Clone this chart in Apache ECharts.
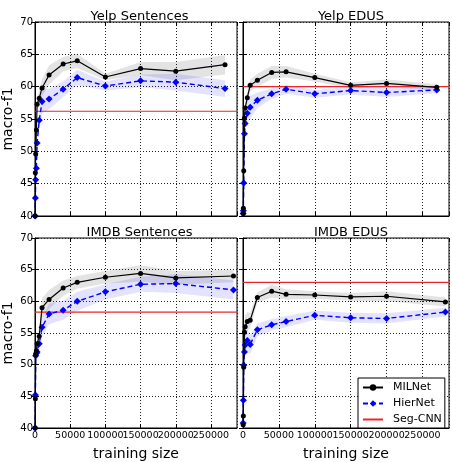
<!DOCTYPE html>
<html><head><meta charset="utf-8">
<script src="https://cdn.jsdelivr.net/npm/echarts@6/dist/echarts.min.js"></script>
<style>html,body{margin:0;padding:0;background:#fff}#c{width:452px;height:462px}</style>
</head><body><div id="c"></div>
<script>
// ---- data ----
const titles = ['Yelp Sentences', 'Yelp EDUS', 'IMDB Sentences', 'IMDB EDUS'];
const yelpX = [200, 500, 1000, 2000, 3000, 6000, 10000, 20000, 40000, 60000, 100000, 150000, 200000, 270000];
const imdbX = [200, 500, 1000, 2000, 3000, 6000, 10000, 20000, 40000, 60000, 100000, 150000, 200000, 282000];

const yelpSentMIL = [40.0, 46.7, 49.6, 53.3, 57.3, 58.2, 59.8, 61.8, 63.5, 64.0, 61.5, 62.8, 62.4, 63.4];
const yelpSentMILSpread = [0.3, 0.4, 0.5, 0.8, 1.0, 1.2, 1.3, 1.5, 1.1, 1.1, 0.5, 1.0, 1.4, 1.5];
const yelpSentHier = [40.0, 42.8, 45.6, 47.4, 51.3, 54.8, 57.7, 58.1, 59.6, 61.4, 60.1, 60.9, 60.7, 59.7];
const yelpSentHierSpread = [0.3, 0.4, 0.6, 0.8, 1.0, 1.4, 1.8, 1.6, 1.2, 1.2, 0.7, 1.0, 1.3, 1.3];
const yelpSentSeg = 56.2;

const yelpEduMIL = [40.4, 41.2, 47.0, 55.1, 56.7, 58.3, 60.2, 61.0, 62.2, 62.3, 61.4, 60.2, 60.5, 59.9];
const yelpEduMILSpread = [0.3, 0.5, 0.6, 0.8, 0.8, 0.9, 0.9, 1.0, 1.0, 0.9, 0.6, 0.5, 0.6, 0.5];
const yelpEduHier = [40.4, 40.8, 45.1, 52.7, 54.3, 55.9, 56.8, 57.9, 58.9, 59.6, 58.9, 59.4, 59.1, 59.5];
const yelpEduHierSpread = [0.3, 0.5, 0.8, 1.2, 1.5, 1.8, 1.8, 1.2, 0.8, 0.7, 0.6, 0.6, 0.7, 0.5];
const yelpEduSeg = 60.0;

const imdbSentMIL = [40.0, 44.6, 51.6, 52.2, 53.3, 54.5, 59.0, 60.3, 62.1, 63.0, 63.8, 64.4, 63.7, 64.0];
const imdbSentMILSpread = [0.3, 0.5, 0.6, 0.8, 1.0, 1.3, 1.5, 1.5, 1.2, 1.0, 1.0, 1.3, 1.1, 1.0];
const imdbSentHier = [40.0, 45.2, 51.4, 51.8, 52.0, 53.3, 55.9, 58.0, 58.6, 60.0, 61.5, 62.7, 62.8, 61.8];
const imdbSentHierSpread = [0.3, 0.5, 0.7, 0.9, 1.1, 1.3, 1.5, 1.6, 1.5, 1.5, 1.2, 1.2, 1.5, 1.5];
const imdbSentSeg = 58.3;

const imdbEduMIL = [40.5, 41.9, 49.6, 55.1, 56.0, 56.8, 57.0, 60.6, 61.6, 61.1, 61.0, 60.7, 60.8, 59.9];
const imdbEduMILSpread = [0.5, 0.8, 1.0, 1.5, 1.8, 1.5, 1.2, 0.8, 1.0, 0.8, 0.6, 0.6, 0.8, 0.7];
const imdbEduHier = [40.8, 44.4, 49.9, 52.0, 53.1, 53.8, 53.2, 55.5, 56.3, 56.8, 57.8, 57.4, 57.3, 58.3];
const imdbEduHierSpread = [0.5, 0.8, 1.2, 1.5, 1.8, 1.8, 1.5, 1.0, 0.9, 0.9, 0.7, 0.8, 0.8, 0.7];
const imdbEduSeg = 63.0;

const xMin = 0, xMax = 287000, xInterval = 50000;
const yMin = 40, yMax = 70, yInterval = 5;

// ---- build ----
const panels = [
  {x: yelpX, mil: yelpSentMIL, milS: yelpSentMILSpread, hier: yelpSentHier, hierS: yelpSentHierSpread, seg: yelpSentSeg},
  {x: yelpX, mil: yelpEduMIL, milS: yelpEduMILSpread, hier: yelpEduHier, hierS: yelpEduHierSpread, seg: yelpEduSeg},
  {x: imdbX, mil: imdbSentMIL, milS: imdbSentMILSpread, hier: imdbSentHier, hierS: imdbSentHierSpread, seg: imdbSentSeg},
  {x: imdbX, mil: imdbEduMIL, milS: imdbEduMILSpread, hier: imdbEduHier, hierS: imdbEduHierSpread, seg: imdbEduSeg}
];
const gridPos = [
  {left: 32, top: 22, width: 205, height: 194},
  {left: 243, top: 22, width: 206, height: 194},
  {left: 32, top: 238, width: 205, height: 196},
  {left: 243, top: 238, width: 206, height: 196}
];
const FONT = 'DejaVu Sans';
const grids = [], xAxes = [], yAxes = [], series = [], titleArr = [];

gridPos.forEach((g, i) => {
  grids.push(Object.assign({show: true, borderColor: '#000', borderWidth: 1, backgroundColor: 'transparent'}, g));
  titleArr.push({
    text: titles[i], left: g.left + g.width / 2, top: g.top - 17, textAlign: 'center',
    textStyle: {fontFamily: FONT, fontSize: 13, fontWeight: 'normal', color: '#000'}
  });
  const bottomRow = i >= 2, leftCol = i % 2 === 0;
  xAxes.push({
    type: 'value', gridIndex: i, min: xMin, max: xMax, interval: xInterval, position: 'bottom',
    axisLine: {show: true, lineStyle: {color: '#000', width: 1}},
    axisTick: {show: true, inside: true, length: 4, lineStyle: {color: '#000'}},
    axisLabel: {show: bottomRow, fontFamily: FONT, fontSize: 9.5, color: '#000', margin: 3,
      showMaxLabel: false, formatter: v => String(v)},
    splitLine: {show: true, lineStyle: {color: '#222', type: [1, 2], width: 1}},
    name: bottomRow ? 'training size' : '', nameLocation: 'middle', nameGap: 19,
    nameTextStyle: {fontFamily: FONT, fontSize: 14, color: '#000'}
  });
  xAxes.push({
    type: 'value', gridIndex: i, min: xMin, max: xMax, interval: xInterval, position: 'top',
    axisLine: {show: false}, axisLabel: {show: false}, splitLine: {show: false},
    axisTick: {show: true, inside: true, length: 4, lineStyle: {color: '#000'}}
  });
  yAxes.push({
    type: 'value', gridIndex: i, min: yMin, max: yMax, interval: yInterval, position: 'left',
    axisLine: {show: true, lineStyle: {color: '#000', width: 1}},
    axisTick: {show: true, inside: true, length: 4, lineStyle: {color: '#000'}},
    axisLabel: {show: leftCol, fontFamily: FONT, fontSize: 10, color: '#000', margin: 2},
    splitLine: {show: true, lineStyle: {color: '#222', type: [1, 2], width: 1}},
    name: leftCol ? 'macro-f1' : '', nameLocation: 'middle', nameGap: 20,
    nameTextStyle: {fontFamily: FONT, fontSize: 14, color: '#000'}
  });
  yAxes.push({
    type: 'value', gridIndex: i, min: yMin, max: yMax, interval: yInterval, position: 'right',
    axisLine: {show: false}, axisLabel: {show: false}, splitLine: {show: false},
    axisTick: {show: true, inside: true, length: 4, lineStyle: {color: '#000'}}
  });

  const p = panels[i];
  const xi = 2 * i, yi = 2 * i;
  const band = (vals, spread, fill) => ({
    type: 'custom', xAxisIndex: xi, yAxisIndex: yi, clip: true, silent: true, z: 1,
    data: p.x.map((x, k) => [x, vals[k] - spread[k], vals[k] + spread[k]]),
    renderItem: (params, api) => {
      if (params.dataIndex !== 0) return null;
      const pts = [];
      for (let k = 0; k < p.x.length; k++) pts.push(api.coord([p.x[k], vals[k] + spread[k]]));
      for (let k = p.x.length - 1; k >= 0; k--) pts.push(api.coord([p.x[k], vals[k] - spread[k]]));
      return {type: 'polygon', shape: {points: pts}, style: {fill: fill}};
    }
  });
  series.push(band(p.mil, p.milS, 'rgba(0,0,0,0.11)'));
  series.push(band(p.hier, p.hierS, 'rgba(0,0,255,0.11)'));
  series.push({
    name: 'Seg-CNN', type: 'line', xAxisIndex: xi, yAxisIndex: yi, z: 3,
    data: [[xMin, p.seg], [xMax, p.seg]], symbol: 'none', silent: true,
    lineStyle: {color: '#e8262b', width: 1.2}, itemStyle: {color: '#e8262b'}
  });
  series.push({
    name: 'HierNet', type: 'line', xAxisIndex: xi, yAxisIndex: yi, z: 4,
    data: p.x.map((x, k) => [x, p.hier[k]]), symbol: 'diamond', symbolSize: 7,
    lineStyle: {color: '#0000ff', width: 1.4, type: [5, 3]}, itemStyle: {color: '#0000ff'}
  });
  series.push({
    name: 'MILNet', type: 'line', xAxisIndex: xi, yAxisIndex: yi, z: 5,
    data: p.x.map((x, k) => [x, p.mil[k]]), symbol: 'circle', symbolSize: 5,
    lineStyle: {color: '#000', width: 1.2}, itemStyle: {color: '#000'}
  });
});

const chart = echarts.init(document.getElementById('c'), null, {renderer: 'canvas'});
chart.setOption({
  animation: false,
  backgroundColor: '#fff',
  title: titleArr,
  grid: grids, xAxis: xAxes, yAxis: yAxes, series: series,
  legend: {
    data: ['MILNet', 'HierNet', {name: 'Seg-CNN', itemStyle: {opacity: 0}}],
    orient: 'vertical', left: 358, top: 378,
    backgroundColor: '#fff', borderColor: '#000', borderWidth: 1, borderRadius: 0,
    padding: [4, 3, 3, 4], itemWidth: 20, itemHeight: 8, itemGap: 5,
    textStyle: {fontFamily: FONT, fontSize: 11, color: '#000', padding: [0, 0, 0, 5]}
  }
});
</script></body></html>
